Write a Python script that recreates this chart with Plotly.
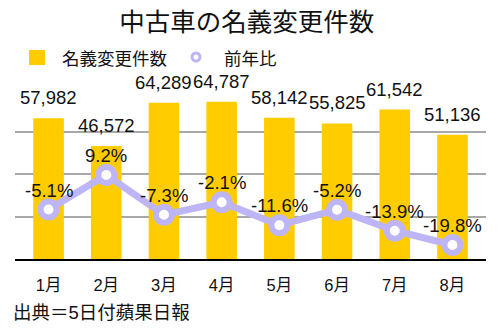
import plotly.graph_objects as go

# Monthly used-car title transfers and year-over-year change
months = ["1月", "2月", "3月", "4月", "5月", "6月", "7月", "8月"]
transfers = [57982, 46572, 64289, 64787, 58142, 55825, 61542, 51136]
yoy_pct = [-5.1, 9.2, -7.3, -2.1, -11.6, -5.2, -13.9, -19.8]

title_text = "中古車の名義変更件数"
bar_name = "名義変更件数"
line_name = "前年比"
source_text = "出典＝5日付蘋果日報"

FONT = "Liberation Sans, Noto Sans CJK JP"
CJK = "Noto Sans CJK JP"
BAR_COLOR = "#FFCC00"
LINE_COLOR = "#BDB5F5"
TEXT_COLOR = "#111111"

W, H = 502, 328
L, R, T, B = 15, 16, 89, 69
plot_w = W - L - R
plot_h = H - T - B


def px_x(p):
    return (p - L) / plot_w


def px_y(p):
    return (H - B - p) / plot_h


fig = go.Figure()

fig.add_trace(go.Bar(
    x=months, y=transfers, name=bar_name,
    marker=dict(color=BAR_COLOR, line=dict(width=0)),
    showlegend=False, yaxis="y",
))

fig.add_trace(go.Scatter(
    x=months, y=yoy_pct, name=line_name, mode="lines+markers",
    line=dict(color=LINE_COLOR, width=7),
    marker=dict(size=16, color="white", line=dict(color=LINE_COLOR, width=6)),
    showlegend=False, yaxis="y2", cliponaxis=False,
))

annotations = []
# value labels above the bars
for m, v in zip(months, transfers):
    annotations.append(dict(
        x=m, y=v, xref="x", yref="y", text=f"{v:,}", showarrow=False,
        yanchor="bottom", yshift=8,
        font=dict(family=FONT, size=18.5, color=TEXT_COLOR),
    ))
# percentage labels above the line points
for m, v in zip(months, yoy_pct):
    annotations.append(dict(
        x=m, y=v, xref="x", yref="y2", text=f"{v:.1f}%", showarrow=False,
        yanchor="bottom", yshift=7,
        font=dict(family=FONT, size=18.5, color=TEXT_COLOR),
    ))

# legend labels
annotations.append(dict(
    x=px_x(60), y=px_y(57), xref="paper", yref="paper", text=bar_name,
    showarrow=False, xanchor="left", yanchor="middle",
    font=dict(family=CJK, size=17.5, color=TEXT_COLOR),
))
annotations.append(dict(
    x=px_x(222), y=px_y(57), xref="paper", yref="paper", text=line_name,
    showarrow=False, xanchor="left", yanchor="middle",
    font=dict(family=CJK, size=17.5, color=TEXT_COLOR),
))
# source note
annotations.append(dict(
    x=px_x(11), y=px_y(312), xref="paper", yref="paper", text=source_text,
    showarrow=False, xanchor="left", yanchor="middle",
    font=dict(family=FONT, size=18.5, color=TEXT_COLOR),
))

shapes = [
    # legend swatch for bars
    dict(type="rect", xref="paper", yref="paper",
         x0=px_x(29), x1=px_x(45), y0=px_y(65), y1=px_y(50),
         fillcolor=BAR_COLOR, line=dict(width=0)),
    # legend swatch for the line
    dict(type="circle", xref="paper", yref="paper",
         xsizemode="pixel", ysizemode="pixel",
         xanchor=px_x(196), yanchor=px_y(57),
         x0=-4, x1=4, y0=-4, y1=4,
         fillcolor="white", line=dict(color=LINE_COLOR, width=3)),
]

fig.update_layout(
    width=W, height=H,
    margin=dict(l=L, r=R, t=T, b=B, pad=0),
    paper_bgcolor="white", plot_bgcolor="white",
    title=dict(text=title_text, x=247 / W, xref="paper", xanchor="center",
               y=1 - 22 / H, yref="container", yanchor="middle",
               font=dict(family=CJK, size=25.5, color=TEXT_COLOR)),
    font=dict(family=FONT, color=TEXT_COLOR),
    bargap=0.47,
    xaxis=dict(showgrid=False, showline=True, linecolor="black", linewidth=2,
               ticks="outside", ticklen=10, tickcolor="rgba(0,0,0,0)",
               tickfont=dict(family=FONT, size=16.5, color=TEXT_COLOR),
               zeroline=False),
    yaxis=dict(range=[0, 70000], dtick=17500, showgrid=True,
               gridcolor="#A8A8A8", gridwidth=2, showticklabels=False,
               zeroline=False, showline=False),
    yaxis2=dict(range=[-25.6, 44.8], overlaying="y", showgrid=False,
                showticklabels=False, zeroline=False, showline=False),
    annotations=annotations,
    shapes=shapes,
    showlegend=False,
)

fig.write_html("out.html")
